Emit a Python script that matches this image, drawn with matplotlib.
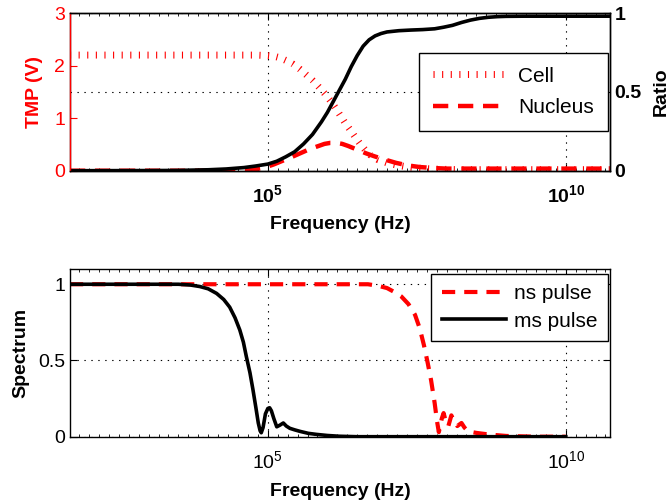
import numpy as np
import matplotlib
matplotlib.use('Agg')
import matplotlib.pyplot as plt
import matplotlib.ticker as mticker

plt.rcParams['font.family'] = ['Liberation Sans', 'DejaVu Sans']
plt.rcParams['mathtext.fontset'] = 'custom'
plt.rcParams['mathtext.rm'] = 'Liberation Sans'
plt.rcParams['mathtext.bf'] = 'Liberation Sans:bold'
plt.rcParams['lines.scale_dashes'] = False

# ── data (frequency given as log10(Hz)) ──────────────────────────────────────
XLIM_LOG = (1.68, 10.74)

ratio_logf = [1.68, 3.0, 3.5, 4.0, 4.3, 4.6, 4.8, 5.0, 5.15, 5.3, 5.45, 5.6,
              5.75, 5.9, 6.0, 6.1, 6.2, 6.3, 6.4, 6.5, 6.6, 6.7, 6.8, 6.9, 7.0,
              7.2, 7.4, 7.6, 7.8, 7.95, 8.1, 8.25, 8.4, 8.55, 8.7, 8.85, 9.0,
              9.3, 10.74]
ratio_val = [0.0, 0.001, 0.002, 0.006, 0.011, 0.02, 0.03, 0.042, 0.06, 0.088,
             0.12, 0.17, 0.23, 0.31, 0.37, 0.44, 0.51, 0.58, 0.66, 0.73, 0.79,
             0.83, 0.855, 0.87, 0.88, 0.888, 0.892, 0.895, 0.9, 0.91, 0.922,
             0.94, 0.955, 0.966, 0.973, 0.977, 0.979, 0.98, 0.98]

cell_logf = [1.68, 4.8, 5.0, 5.1, 5.2, 5.3, 5.42, 5.54, 5.65, 5.75, 5.85, 5.96,
             6.05, 6.12, 6.2, 6.29, 6.38, 6.46, 6.55, 6.63, 6.72, 6.85, 7.0,
             7.15, 7.3, 7.52, 7.8, 8.2, 10.74]
cell_tmp = [2.2, 2.2, 2.19, 2.18, 2.15, 2.1, 2.03, 1.93, 1.82, 1.72, 1.6, 1.46,
            1.33, 1.22, 1.08, 0.92, 0.78, 0.65, 0.51, 0.4, 0.3, 0.21, 0.15,
            0.11, 0.08, 0.05, 0.03, 0.02, 0.02]

nuc_logf = [1.68, 4.5, 4.65, 4.8, 4.95, 5.1, 5.25, 5.4, 5.54, 5.7, 5.85, 5.95,
            6.05, 6.15, 6.25, 6.35, 6.5, 6.65, 6.8, 7.0, 7.15, 7.35, 7.55, 7.8,
            8.0, 10.74]
nuc_tmp = [0.0, 0.0, 0.01, 0.03, 0.06, 0.12, 0.19, 0.26, 0.33, 0.41, 0.47, 0.51,
           0.53, 0.53, 0.51, 0.47, 0.4, 0.33, 0.27, 0.2, 0.15, 0.1, 0.07, 0.05,
           0.04, 0.04]

ns_logf = [1.68, 6.68, 6.85, 7.0, 7.12, 7.24, 7.36, 7.47, 7.55, 7.62, 7.68,
           7.74, 7.80, 7.84, 7.87, 7.92, 7.95, 8.0, 8.03, 8.08, 8.13, 8.18,
           8.25, 8.3, 8.36, 8.5, 8.7, 9.0, 9.5, 10.0]
ns_spec = [1.0, 1.0, 0.99, 0.975, 0.95, 0.92, 0.87, 0.8, 0.71, 0.6, 0.49, 0.37,
           0.22, 0.1, 0.03, 0.12, 0.155, 0.08, 0.07, 0.14, 0.1, 0.07, 0.09, 0.06,
           0.035, 0.025, 0.015, 0.005, 0.0, 0.0]

ms_logf = [1.68, 3.5, 3.7, 3.86, 4.0, 4.14, 4.26, 4.36, 4.45, 4.53, 4.59, 4.64,
           4.7, 4.75, 4.8, 4.84, 4.87, 4.89, 4.92, 4.96, 5.0, 5.03, 5.06, 5.1,
           5.15, 5.2, 5.26, 5.31, 5.37, 5.45, 5.54, 5.68, 5.82, 6.0, 6.2, 6.5,
           10.0]
ms_spec = [1.0, 1.0, 0.995, 0.985, 0.97, 0.94, 0.9, 0.85, 0.78, 0.70, 0.62,
           0.525, 0.42, 0.31, 0.19, 0.09, 0.04, 0.026, 0.06, 0.15, 0.185, 0.19,
           0.17, 0.12, 0.065, 0.075, 0.09, 0.07, 0.055, 0.045, 0.035, 0.022,
           0.015, 0.008, 0.003, 0.0, 0.0]

MAJOR_X = [1e5, 1e10]
RED = '#ff0000'
FS = 14


def hz(logf):
    return 10.0 ** np.asarray(logf)


def exp_fmt(bold):
    def f(v, pos):
        e = int(round(np.log10(v)))
        return rf'$\mathbf{{10^{{{e}}}}}$' if bold else rf'$10^{{{e}}}$'
    return mticker.FuncFormatter(f)


def style_x(ax, bold):
    ax.set_xscale('log')
    ax.set_xlim(10 ** XLIM_LOG[0], 10 ** XLIM_LOG[1])
    ax.xaxis.set_major_locator(mticker.FixedLocator(MAJOR_X))
    ax.xaxis.set_minor_locator(mticker.FixedLocator(10 ** np.arange(0, 12, 1 / 6)))
    ax.xaxis.set_minor_formatter(mticker.NullFormatter())
    ax.xaxis.set_major_formatter(exp_fmt(bold))
    ax.tick_params(axis='x', which='both', direction='in', top=True)
    ax.tick_params(axis='x', which='major', length=5, labelsize=FS, pad=10)
    ax.tick_params(axis='x', which='minor', length=2)
    ax.set_xlabel('Frequency (Hz)', fontsize=FS, fontweight='bold', labelpad=7)
    ax.grid(True, axis='x', which='major', color='k', linestyle=(0, (1, 4)), lw=0.8)


fig = plt.figure(figsize=(6.69, 5.03), dpi=100)

# ── top panel: TMP (left, red) + Ratio (right, black) ───────────────────────
ax1 = fig.add_axes([0.1046, 0.6606, 0.807, 0.3135])
ax2 = ax1.twinx()

l_cell, = ax1.plot(hz(cell_logf), cell_tmp, color=RED, lw=5,
                   linestyle=(0, (0.8, 5.4)), label='Cell')
l_nuc, = ax1.plot(hz(nuc_logf), nuc_tmp, color=RED, lw=3.2,
                  linestyle=(0, (11, 7)), label='Nucleus')
ax2.plot(hz(ratio_logf), ratio_val, color='k', lw=2.6)

style_x(ax1, bold=True)
ax1.set_ylim(0, 3)
ax1.set_yticks([0, 1, 2, 3])
ax1.tick_params(axis='y', direction='in', colors=RED, labelsize=FS, length=5)
ax1.set_ylabel('TMP (V)', color=RED, fontsize=FS, fontweight='bold', labelpad=8)

ax2.set_ylim(0, 1)
ax2.set_yticks([0, 0.5, 1])
ax2.yaxis.set_major_formatter(mticker.FuncFormatter(lambda v, p: f'{v:g}'))
ax2.tick_params(axis='y', direction='in', labelsize=FS, length=5)
for t in ax2.get_yticklabels():
    t.set_fontweight('bold')
ax2.set_ylabel('Ratio', fontsize=FS, fontweight='bold', labelpad=8)
ax2.grid(True, axis='y', color='k', linestyle=(0, (1, 4)), lw=0.8)
for ax in (ax1, ax2):
    for s in ax.spines.values():
        s.set_linewidth(1.0)
ax2.spines['left'].set_color(RED)

leg1 = ax2.legend([l_cell, l_nuc], ['Cell', 'Nucleus'], loc='upper right',
                  bbox_to_anchor=(0.996, 0.746), fontsize=15, fancybox=False,
                  edgecolor='k', framealpha=1, handlelength=3.5,
                  handletextpad=0.6, borderaxespad=0, labelspacing=0.6,
                  borderpad=0.65)
leg1.get_frame().set_linewidth(1.0)

# ── bottom panel: Spectrum ───────────────────────────────────────────────────
ax3 = fig.add_axes([0.1046, 0.1318, 0.807, 0.3334])
ax3.plot(hz(ns_logf), ns_spec, color=RED, lw=3, linestyle=(0, (9.5, 6.5)),
         label='ns pulse')
ax3.plot(hz(ms_logf), ms_spec, color='k', lw=2.6, label='ms pulse')

style_x(ax3, bold=False)
ax3.set_ylim(0, 1.1)
ax3.set_yticks([0, 0.5, 1])
ax3.yaxis.set_major_formatter(mticker.FuncFormatter(lambda v, p: f'{v:g}'))
ax3.tick_params(axis='y', direction='in', right=True, labelsize=FS, length=5)
ax3.set_ylabel('Spectrum', fontsize=FS, fontweight='bold', labelpad=6)
ax3.grid(True, axis='y', color='k', linestyle=(0, (1, 4)), lw=0.8)
for s in ax3.spines.values():
    s.set_linewidth(1.0)

leg2 = ax3.legend(loc='upper right', bbox_to_anchor=(0.996, 0.970), fontsize=15,
                  fancybox=False, edgecolor='k', framealpha=1, handlelength=3.1,
                  handletextpad=0.35, borderaxespad=0, labelspacing=0.4,
                  borderpad=0.5)
leg2.get_frame().set_linewidth(1.0)

fig.savefig('out.png', dpi=100, facecolor='white')
